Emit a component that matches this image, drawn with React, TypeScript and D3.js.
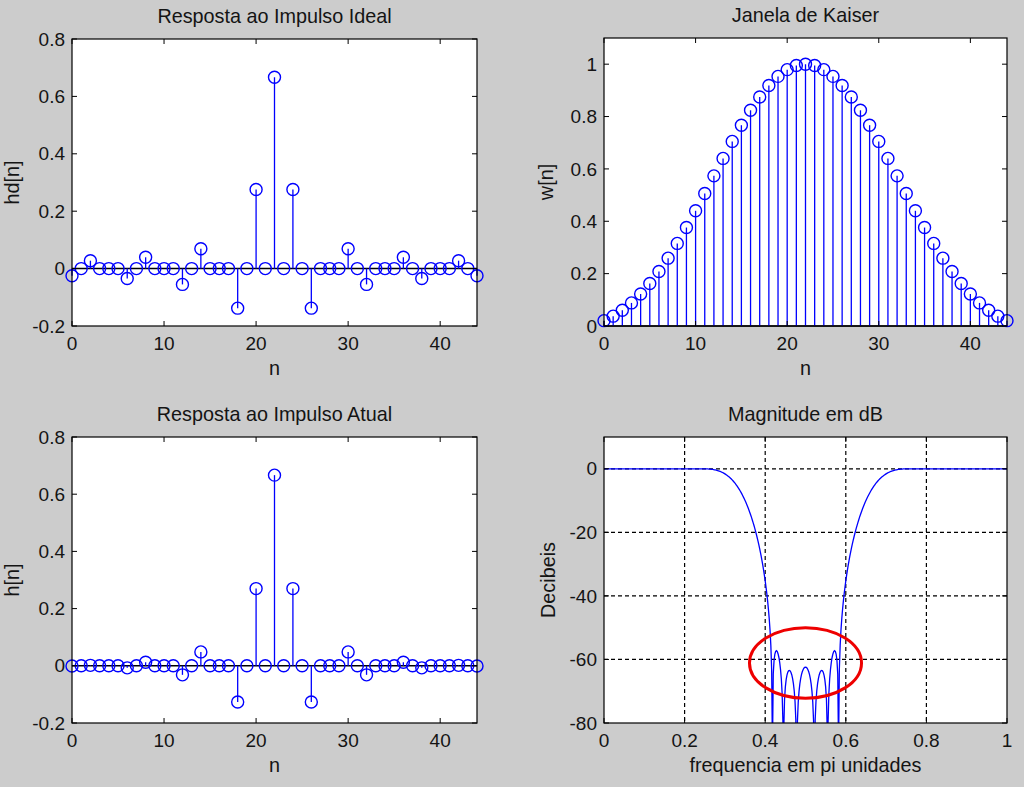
import React from "react";
import * as d3 from "d3";

// ---------- data ----------
const nIdx: number[] = d3.range(0, 45);

const hdValues: number[] = [
  -0.0250604, 0, 0.0275664, 0, 0, 0, -0.0344581, 0, 0.0393806, 0, 0, 0,
  -0.0551329, 0, 0.0689161, 0, 0, 0, -0.1378322, 0, 0.2756644, 0, 0.6666667,
  0, 0.2756644, 0, -0.1378322, 0, 0, 0, 0.0689161, 0, -0.0551329, 0, 0, 0,
  0.0393806, 0, -0.0344581, 0, 0, 0, 0.0275664, 0, -0.0250604,
];

const kaiserValues: number[] = [
  0.0204, 0.0376, 0.0601, 0.0882, 0.1222, 0.1621, 0.2079, 0.2591, 0.3154,
  0.3761, 0.44, 0.5062, 0.5734, 0.6401, 0.7051, 0.7669, 0.8239, 0.8748,
  0.9183, 0.9534, 0.9792, 0.9947, 1.0, 0.9947, 0.9792, 0.9534, 0.9183,
  0.8748, 0.8239, 0.7669, 0.7051, 0.6401, 0.5734, 0.5062, 0.44, 0.3761,
  0.3154, 0.2591, 0.2079, 0.1621, 0.1222, 0.0882, 0.0601, 0.0376, 0.0204,
];

const hValues: number[] = [
  -0.000511, 0, 0.001657, 0, 0, 0, -0.007164, 0, 0.012421, 0, 0, 0,
  -0.031613, 0, 0.048593, 0, 0, 0, -0.126571, 0, 0.269931, 0, 0.666667, 0,
  0.269931, 0, -0.126571, 0, 0, 0, 0.048593, 0, -0.031613, 0, 0, 0,
  0.012421, 0, -0.007164, 0, 0, 0, 0.001657, 0, -0.000511,
];

const nTicks: number[] = [0, 10, 20, 30, 40];
const hTicks: number[] = [-0.2, 0, 0.2, 0.4, 0.6, 0.8];
const hTickLabels: string[] = ["-0.2", "0", "0.2", "0.4", "0.6", "0.8"];
const wTicks: number[] = [0, 0.2, 0.4, 0.6, 0.8, 1];
const wTickLabels: string[] = ["0", "0.2", "0.4", "0.6", "0.8", "1"];
const freqTicks: number[] = [0, 0.2, 0.4, 0.6, 0.8, 1];
const freqTickLabels: string[] = ["0", "0.2", "0.4", "0.6", "0.8", "1"];
const dbTicks: number[] = [-80, -60, -40, -20, 0];
const dbTickLabels: string[] = ["-80", "-60", "-40", "-20", "0"];
const freqGrid: number[] = [0.2, 0.4, 0.6, 0.8];
const dbGrid: number[] = [-60, -40, -20, 0];

// highlighted stopband region (ellipse) in data units
const ellipseCenter: number[] = [0.5, -61.1];
const ellipseRadius: number[] = [0.139, 11.1];

// magnitude response (dB) derived from the plotted impulse response h[n]
const NFREQ = 501;
const freqGridPts: number[] = d3.range(NFREQ).map((i) => i / (NFREQ - 1));
const magRaw: number[] = freqGridPts.map((f) => {
  const om = f * Math.PI;
  let re = 0;
  let im = 0;
  hValues.forEach((v, n) => {
    re += v * Math.cos(om * n);
    im -= v * Math.sin(om * n);
  });
  return Math.sqrt(re * re + im * im);
});
const magMax = d3.max(magRaw) as number;
const magDb: number[] = magRaw.map((m) => Math.max(-300, 20 * Math.log10(m / magMax + 1e-16)));

// ---------- style ----------
const FONT = "'Liberation Sans', Arial, Helvetica, sans-serif";
const FS_TICK = 19;
const FS_LABEL = 19.8;
const BLUE = "#0000ff";
const TXT = "#141414";

type Box = { left: number; right: number; top: number; bottom: number };

function Frame({
  box, xs, ys, xTicks, xLabels, yTicks, yLabels, title, xLabel, yLabel, yLabelX,
}: {
  box: Box; xs: any; ys: any; xTicks: number[]; xLabels: string[]; yTicks: number[]; yLabels: string[];
  title: string; xLabel: string; yLabel: string; yLabelX: number;
}) {
  const tl = 5;
  const cx = (box.left + box.right) / 2;
  const cy = (box.top + box.bottom) / 2;
  return (
    <g>
      {xTicks.map((t, i) => (
        <g key={"xt" + i}>
          <line x1={xs(t)} x2={xs(t)} y1={box.bottom} y2={box.bottom - tl} stroke="#000" strokeWidth={1} />
          <line x1={xs(t)} x2={xs(t)} y1={box.top} y2={box.top + tl} stroke="#000" strokeWidth={1} />
          <text x={xs(t)} y={box.bottom + 23.5} textAnchor="middle" fontFamily={FONT} fontSize={FS_TICK} fill={TXT}>
            {xLabels[i]}
          </text>
        </g>
      ))}
      {yTicks.map((t, i) => (
        <g key={"yt" + i}>
          <line x1={box.left} x2={box.left + tl} y1={ys(t)} y2={ys(t)} stroke="#000" strokeWidth={1} />
          <line x1={box.right} x2={box.right - tl} y1={ys(t)} y2={ys(t)} stroke="#000" strokeWidth={1} />
          <text x={box.left - 7} y={ys(t)} dy="0.35em" textAnchor="end" fontFamily={FONT} fontSize={FS_TICK} fill={TXT}>
            {yLabels[i]}
          </text>
        </g>
      ))}
      <rect x={box.left} y={box.top} width={box.right - box.left} height={box.bottom - box.top}
        fill="none" stroke="#000" strokeWidth={1.2} />
      <text x={cx} y={box.top - 16.5} textAnchor="middle" fontFamily={FONT} fontSize={FS_LABEL} fill={TXT}>{title}</text>
      <text x={cx} y={box.bottom + 49} textAnchor="middle" fontFamily={FONT} fontSize={FS_LABEL} fill={TXT}>{xLabel}</text>
      <text transform={`translate(${yLabelX},${cy}) rotate(-90)`} textAnchor="middle" fontFamily={FONT} fontSize={FS_LABEL} fill={TXT}>
        {yLabel}
      </text>
    </g>
  );
}

function StemPanel({
  box, values, yDomain, yTicks, yLabels, title, yLabel, yLabelX,
}: {
  box: Box; values: number[]; yDomain: [number, number]; yTicks: number[]; yLabels: string[];
  title: string; yLabel: string; yLabelX: number;
}) {
  const xs = d3.scaleLinear().domain([0, 44]).range([box.left, box.right]);
  const ys = d3.scaleLinear().domain(yDomain).range([box.bottom, box.top]);
  return (
    <g>
      <rect x={box.left} y={box.top} width={box.right - box.left} height={box.bottom - box.top} fill="#fff" />
      <line x1={box.left} x2={box.right} y1={ys(0)} y2={ys(0)} stroke="#000" strokeWidth={1.5} />
      {nIdx.map((n) => (
        <line key={"s" + n} x1={xs(n)} x2={xs(n)} y1={ys(0)} y2={ys(values[n])} stroke={BLUE} strokeWidth={1.3} />
      ))}
      {nIdx.map((n) => (
        <circle key={"c" + n} cx={xs(n)} cy={ys(values[n])} r={6} fill="none" stroke={BLUE} strokeWidth={1.4} />
      ))}
      <Frame box={box} xs={xs} ys={ys} xTicks={nTicks} xLabels={nTicks.map(String)} yTicks={yTicks}
        yLabels={yLabels} title={title} xLabel="n" yLabel={yLabel} yLabelX={yLabelX} />
    </g>
  );
}

function MagPanel({ box }: { box: Box }) {
  const xs = d3.scaleLinear().domain([0, 1]).range([box.left, box.right]);
  const ys = d3.scaleLinear().domain([-80, 10]).range([box.bottom, box.top]);
  const line = d3.line<number>().x((_, i) => xs(freqGridPts[i])).y((d) => ys(d));
  return (
    <g>
      <defs>
        <clipPath id="magclip">
          <rect x={box.left} y={box.top} width={box.right - box.left} height={box.bottom - box.top} />
        </clipPath>
      </defs>
      <rect x={box.left} y={box.top} width={box.right - box.left} height={box.bottom - box.top} fill="#fff" />
      {freqGrid.map((g) => (
        <line key={"gx" + g} x1={xs(g)} x2={xs(g)} y1={box.top} y2={box.bottom} stroke="#000" strokeWidth={1.2} strokeDasharray="4,3" />
      ))}
      {dbGrid.map((g) => (
        <line key={"gy" + g} x1={box.left} x2={box.right} y1={ys(g)} y2={ys(g)} stroke="#000" strokeWidth={1.2} strokeDasharray="4,3" />
      ))}
      <path d={line(magDb) as string} fill="none" stroke={BLUE} strokeWidth={1.3} clipPath="url(#magclip)" />
      <Frame box={box} xs={xs} ys={ys} xTicks={freqTicks} xLabels={freqTickLabels} yTicks={dbTicks}
        yLabels={dbTickLabels} title="Magnitude em dB" xLabel="frequencia em pi unidades" yLabel="Decibeis" yLabelX={555} />
      <ellipse cx={xs(ellipseCenter[0])} cy={ys(ellipseCenter[1])}
        rx={xs(ellipseCenter[0] + ellipseRadius[0]) - xs(ellipseCenter[0])}
        ry={ys(ellipseCenter[1] - ellipseRadius[1]) - ys(ellipseCenter[1])}
        fill="none" stroke="#ee0000" strokeWidth={3} />
    </g>
  );
}

export default function App() {
  const W = 1024;
  const H = 787;
  return (
    <svg width={W} height={H} style={{ position: "absolute", left: 0, top: 0, display: "block" }}>
      <rect x={0} y={0} width={W} height={H} fill="#cccccc" />
      <StemPanel box={{ left: 72, right: 477, top: 39, bottom: 326 }} values={hdValues} yDomain={[-0.2, 0.8]}
        yTicks={hTicks} yLabels={hTickLabels} title="Resposta ao Impulso Ideal" yLabel="hd[n]" yLabelX={19} />
      <StemPanel box={{ left: 604, right: 1007, top: 38, bottom: 326 }} values={kaiserValues} yDomain={[0, 1.1]}
        yTicks={wTicks} yLabels={wTickLabels} title="Janela de Kaiser" yLabel="w[n]" yLabelX={553} />
      <StemPanel box={{ left: 72, right: 477, top: 437, bottom: 723 }} values={hValues} yDomain={[-0.2, 0.8]}
        yTicks={hTicks} yLabels={hTickLabels} title="Resposta ao Impulso Atual" yLabel="h[n]" yLabelX={19} />
      <MagPanel box={{ left: 604, right: 1007, top: 437, bottom: 723 }} />
    </svg>
  );
}
